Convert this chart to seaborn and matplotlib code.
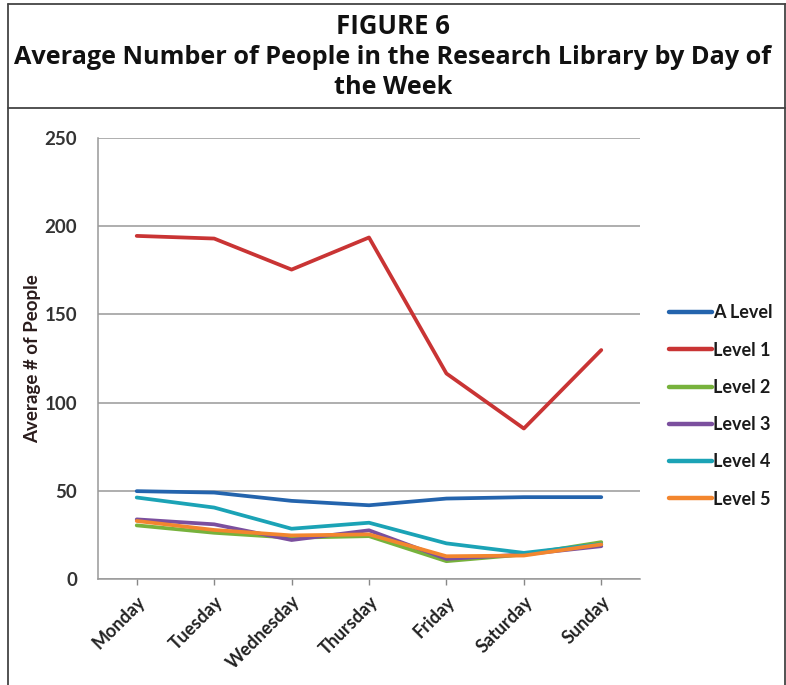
import matplotlib
matplotlib.use("Agg")
import matplotlib.pyplot as plt
from matplotlib.lines import Line2D
import seaborn as sns
import pandas as pd

days = ["Monday", "Tuesday", "Wednesday", "Thursday", "Friday", "Saturday", "Sunday"]
levels = ["A Level", "Level 1", "Level 2", "Level 3", "Level 4", "Level 5"]
a_level = [49.8, 49.0, 44.3, 41.8, 45.6, 46.4, 46.4]
level_1 = [194.5, 193.0, 175.4, 193.6, 116.5, 85.3, 129.8]
level_2 = [30.4, 26.2, 23.4, 24.3, 10.1, 13.9, 20.9]
level_3 = [33.8, 31.0, 22.1, 27.6, 11.4, 13.9, 18.6]
level_4 = [46.2, 40.5, 28.5, 31.9, 20.2, 14.8, 19.8]
level_5 = [32.9, 27.8, 24.7, 25.3, 12.9, 13.3, 19.6]
series = [a_level, level_1, level_2, level_3, level_4, level_5]
colors = ["#2464ad", "#c93434", "#77b23c", "#7b4f9e", "#1ba3b6", "#f3862e"]
yticks = [0, 50, 100, 150, 200, 250]

rows = []
for lvl, vals in zip(levels, series):
    for d, v in zip(days, vals):
        rows.append({"Day": d, "Level": lvl, "Value": v})
df = pd.DataFrame(rows)

sns.set_theme(style="white")
plt.rcParams["font.family"] = ["Lato", "DejaVu Sans"]

W, H = 786, 685
fig = plt.figure(figsize=(W / 100, H / 100), dpi=100)
ax = fig.add_axes([98 / W, 1 - 579 / H, (640 - 98) / W, (579 - 138) / H])

sns.lineplot(data=df, x="Day", y="Value", hue="Level", hue_order=levels,
             palette=dict(zip(levels, colors)), linewidth=2.7, sort=False,
             ax=ax, legend=False)

ax.set_xlim(-0.5, 6.5)
ax.set_ylim(0, 250)
ax.set_yticks(yticks)
ax.set_yticklabels([str(t) for t in yticks], fontsize=13.5, fontweight="bold", color="#333333")
ax.set_xticks(range(len(days)))
ax.set_xticklabels(days, rotation=45, ha="right", rotation_mode="anchor",
                   fontsize=13, fontweight="bold", color="#222222")
ax.tick_params(axis="x", length=4, color="#888888", width=1, pad=6, bottom=True)
ax.tick_params(axis="y", length=0, pad=15)
ax.grid(axis="y", color="#999999", linewidth=1.1)
ax.set_axisbelow(True)
for s in ["top", "right"]:
    ax.spines[s].set_visible(False)
for s in ["left", "bottom"]:
    ax.spines[s].set_color("#999999")
    ax.spines[s].set_linewidth(1.1)
ax.set_xlabel("")
ax.set_ylabel("Average # of People", fontsize=13.5, fontweight="bold", color="#2a1c1c")
ax.yaxis.set_label_coords(-57 / (640 - 98), 0.5)

handles = [Line2D([], [], color=c, linewidth=3.2) for c in colors]
leg = fig.legend(handles, levels, loc="upper left", bbox_to_anchor=(655 / W, 1 - 290 / H),
                 frameon=False, handlelength=2.35, handletextpad=0.05, labelspacing=1.12,
                 borderpad=0.3, prop={"weight": "bold", "size": 13})
for t in leg.get_texts():
    t.set_color("#1a1a1a")

tfont = ["Open Sans", "DejaVu Sans"]
fig.text(0.5, 1 - 26 / H, "FIGURE 6", ha="center", va="center",
         fontsize=18.5, fontweight="bold", family=tfont, color="#111111")
fig.text(0.5, 1 - 57 / H, "Average Number of People in the Research Library by Day of",
         ha="center", va="center", fontsize=18.2, fontweight="bold",
         family=tfont, color="#111111")
fig.text(0.5, 1 - 88 / H, "the Week", ha="center", va="center",
         fontsize=18.2, fontweight="bold", family=tfont, color="#111111")

bc = "#444444"
fig.add_artist(Line2D([8 / W, 8 / W], [0, 1 - 4 / H], color=bc, linewidth=1.3, transform=fig.transFigure))
fig.add_artist(Line2D([8 / W, 1], [1 - 4 / H, 1 - 4 / H], color=bc, linewidth=1.3, transform=fig.transFigure))
fig.add_artist(Line2D([8 / W, 1], [1 - 108 / H, 1 - 108 / H], color=bc, linewidth=1.3, transform=fig.transFigure))
fig.add_artist(Line2D([785 / W, 785 / W], [0, 1 - 4 / H], color=bc, linewidth=1.3, transform=fig.transFigure))

fig.savefig("out.png", dpi=100)
